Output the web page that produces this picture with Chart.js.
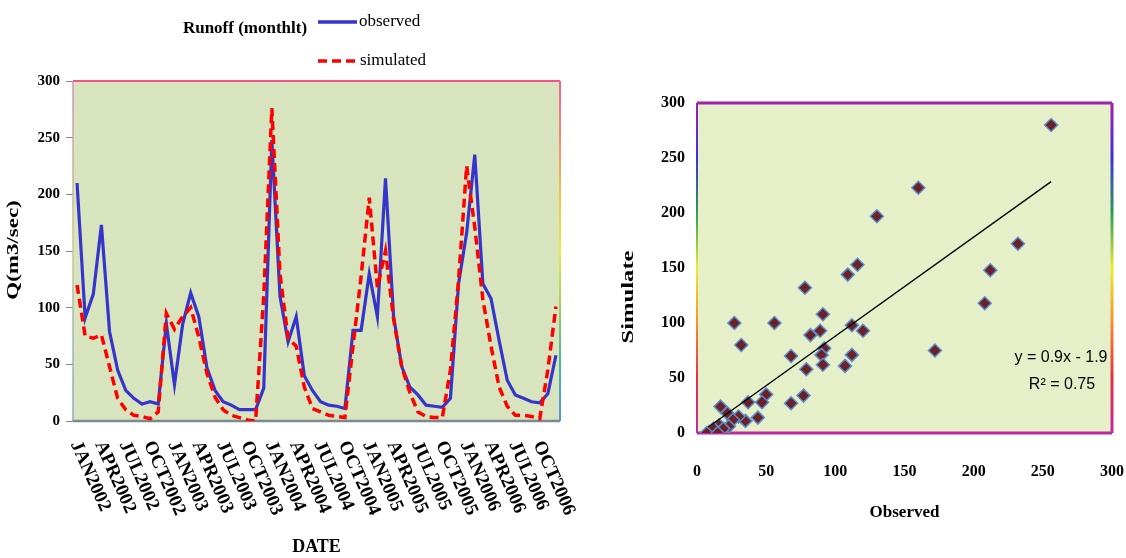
<!DOCTYPE html>
<html>
<head>
<meta charset="utf-8">
<script src="https://cdn.jsdelivr.net/npm/chart.js@4.4.0/dist/chart.umd.min.js"></script>
<style>
  html, body { margin: 0; padding: 0; background: #fff; overflow: hidden; }
  #runoff { position: absolute; left: 0; top: 0; }
  #scatter { position: absolute; left: 580px; top: 0; }
</style>
</head>
<body>
<canvas id="runoff" width="580" height="558"></canvas>
<canvas id="scatter" width="546" height="558"></canvas>
<script>
// monthly runoff 2002-2006
const years = [2002, 2003, 2004, 2005, 2006];
const monthNames = ["JAN", "FEB", "MAR", "APR", "MAY", "JUN", "JUL", "AUG", "SEP", "OCT", "NOV", "DEC"];
const observed = [210, 91, 112, 173, 79, 45, 27, 20, 15, 17, 15, 86, 32, 85, 113, 92, 47, 27, 17, 14,
  10, 10, 10, 29, 248, 110, 70, 92, 40, 27, 17, 14, 13, 11, 80, 80, 130, 92, 214, 92,
  48, 30, 23, 14, 13, 12, 20, 121, 166, 235, 121, 108, 71, 36, 23, 20, 17, 16, 24, 58];
const simulated = [120, 75, 73, 76, 48, 20, 10, 5, 4, 2, 8, 95, 81, 92, 100, 74, 42, 21, 10, 5,
  3, 1, 0, 110, 276, 130, 73, 66, 30, 11, 8, 5, 4, 3, 66, 128, 197, 118, 150, 90,
  48, 25, 8, 4, 3, 3, 45, 124, 225, 171, 107, 66, 30, 13, 5, 5, 4, 2, 45, 101];

// scatter: observed vs simulated
const obsX = [256, 160, 130, 232, 212, 208, 172, 116, 109, 78, 27, 56, 32, 91, 89, 82, 112, 120, 92, 90,
  112, 91, 107, 68, 79, 77, 68, 50, 47, 37, 44, 35, 30, 17, 22, 26, 23, 16, 13.5, 9, 12, 19, 7, 15];
const simY = [280, 223, 197, 172, 148, 118, 75, 153, 144, 132, 100, 100, 80, 108, 93, 89, 98, 93, 77, 71,
  71, 62, 61, 70, 58, 34, 27, 35, 28, 28, 14, 11, 15, 24, 18, 12, 6, 7, 1, 1, 4, 4, 0, 0];
const slope = 0.9, intercept = -1.9, r2 = 0.75;
const trendRange = [8, 256];

const months = [];
years.forEach(y => monthNames.forEach(m => months.push(m + y)));

const serif = '"Liberation Serif", "Times New Roman", serif';

function rainbow(ctx, y0, y1, stops) {
  const g = ctx.createLinearGradient(0, y0, 0, y1);
  stops.forEach((c, i) => g.addColorStop(i / (stops.length - 1), c));
  return g;
}

// vertical axis title, stretched along the text like the original picture
function sideTitle(ctx, text, cx, cy, stretch) {
  ctx.save();
  ctx.translate(cx, cy);
  ctx.rotate(-Math.PI / 2);
  ctx.scale(stretch, 1);
  ctx.font = 'bold 17px ' + serif;
  ctx.fillStyle = '#000';
  ctx.textAlign = 'center';
  ctx.textBaseline = 'middle';
  ctx.fillText(text, 0, 0);
  ctx.restore();
}

const runoffFrame = {
  id: 'runoffFrame',
  beforeDatasetsDraw(chart) {
    const { ctx, chartArea: a } = chart;
    ctx.save();
    ctx.fillStyle = '#d8e4bd';
    ctx.fillRect(a.left, a.top, a.right - a.left, a.bottom - a.top);
    ctx.lineWidth = 2;
    ctx.strokeStyle = '#f2528e';
    ctx.beginPath(); ctx.moveTo(a.left, a.top); ctx.lineTo(a.right, a.top); ctx.stroke();
    ctx.strokeStyle = rainbow(ctx, a.top, a.bottom, ['#f2609a', '#f58a70', '#f6c040', '#e8ec40', '#9ed060', '#40b8a0', '#5a90e8']);
    ctx.beginPath(); ctx.moveTo(a.right, a.top); ctx.lineTo(a.right, a.bottom); ctx.stroke();
    ctx.lineWidth = 1.5;
    ctx.strokeStyle = rainbow(ctx, a.top, a.bottom, ['#d890b0', '#c8b0a0', '#c8c890', '#a0b8b0', '#90a8c0']);
    ctx.beginPath(); ctx.moveTo(a.left, a.top); ctx.lineTo(a.left, a.bottom); ctx.stroke();
    ctx.lineWidth = 2.5;
    ctx.strokeStyle = '#7e8794';
    ctx.beginPath(); ctx.moveTo(a.left, a.bottom); ctx.lineTo(a.right, a.bottom); ctx.stroke();
    ctx.restore();
  },
  afterDraw(chart) {
    const { ctx } = chart;
    const x = chart.scales.x;
    ctx.save();
    // rotated date labels
    ctx.font = 'bold 19px ' + serif;
    ctx.fillStyle = '#000';
    ctx.textAlign = 'left';
    ctx.textBaseline = 'middle';
    months.forEach((m, i) => {
      if (i % 3) return;
      ctx.save();
      ctx.translate(x.getPixelForValue(i) - 2, 442);
      ctx.rotate(66 * Math.PI / 180);
      ctx.fillText(m, 0, 0);
      ctx.restore();
    });
    // title + legend
    ctx.font = 'bold 17px ' + serif;
    ctx.textAlign = 'center';
    ctx.fillText('Runoff (monthlt)', 245, 29);
    ctx.lineWidth = 3.5;
    ctx.strokeStyle = '#3535cc';
    ctx.beginPath(); ctx.moveTo(318, 22); ctx.lineTo(357, 22); ctx.stroke();
    ctx.strokeStyle = '#ff0000';
    ctx.setLineDash([9, 5]);
    ctx.beginPath(); ctx.moveTo(318, 61); ctx.lineTo(357, 61); ctx.stroke();
    ctx.setLineDash([]);
    ctx.font = '17px ' + serif;
    ctx.textAlign = 'left';
    ctx.fillText('observed', 359, 22);
    ctx.fillText('simulated', 360, 61);
    ctx.restore();
    sideTitle(ctx, 'Q(m3/sec)', 14, 250, 1.35);
  }
};

new Chart(document.getElementById('runoff'), {
  type: 'line',
  data: {
    labels: months,
    datasets: [
      { label: 'observed', data: observed, borderColor: '#3535cc', borderWidth: 3.2,
        pointRadius: 0, tension: 0, fill: false, order: 1 },
      { label: 'simulated', data: simulated, borderColor: '#ff0000', borderWidth: 3.5,
        borderDash: [9, 5], pointRadius: 0, tension: 0, fill: false, order: 0 }
    ]
  },
  options: {
    responsive: false,
    animation: false,
    layout: { padding: { top: 81, right: 20, left: 0, bottom: 0 } },
    plugins: { legend: { display: false }, tooltip: { enabled: false } },
    scales: {
      x: {
        offset: true,
        grid: { display: false },
        border: { display: false },
        ticks: { display: false },
        title: { display: true, text: 'DATE', color: '#000',
          font: { family: serif, size: 18, weight: 'bold' }, padding: { top: 0, bottom: 0 } },
        afterFit(s) { s.height = 137; }
      },
      y: {
        min: 0, max: 300,
        ticks: { stepSize: 50, color: '#000', padding: 6,
          font: { family: serif, size: 15, weight: 'bold' } },
        grid: { drawOnChartArea: false, tickLength: 7, color: '#8a8a8a' },
        border: { display: false },
        afterFit(s) { s.width = 73; }
      }
    }
  },
  plugins: [runoffFrame]
});

const scatterFrame = {
  id: 'scatterFrame',
  beforeDatasetsDraw(chart) {
    const { ctx, chartArea: a } = chart;
    const stops = ['#a020b0', '#4030d8', '#2f9a58', '#e8ee30', '#f39030', '#e03048', '#c02aa0'];
    ctx.save();
    ctx.fillStyle = '#e5f0c9';
    ctx.fillRect(a.left, a.top, a.right - a.left, a.bottom - a.top);
    ctx.lineWidth = 3;
    ctx.strokeStyle = rainbow(ctx, a.top, a.bottom, stops);
    ctx.beginPath(); ctx.moveTo(a.right, a.top); ctx.lineTo(a.right, a.bottom); ctx.stroke();
    ctx.lineWidth = 2;
    ctx.beginPath(); ctx.moveTo(a.left, a.top); ctx.lineTo(a.left, a.bottom); ctx.stroke();
    ctx.lineWidth = 3;
    ctx.strokeStyle = '#a020b0';
    ctx.beginPath(); ctx.moveTo(a.left, a.top); ctx.lineTo(a.right, a.top); ctx.stroke();
    ctx.strokeStyle = '#c02aa0';
    ctx.beginPath(); ctx.moveTo(a.left, a.bottom); ctx.lineTo(a.right, a.bottom); ctx.stroke();
    ctx.restore();
  },
  afterDraw(chart) {
    const { ctx, chartArea: a } = chart;
    ctx.save();
    ctx.fillStyle = '#000';
    ctx.textAlign = 'center';
    ctx.textBaseline = 'middle';
    ctx.font = '16px "Liberation Sans Narrow", "Liberation Sans", sans-serif';
    const sign = intercept < 0 ? ' - ' : ' + ';
    ctx.fillText('y = ' + slope + 'x' + sign + Math.abs(intercept), a.right - 51, 358);
    ctx.fillText('R\u00b2 = ' + r2, a.right - 50, 385);
    ctx.restore();
    sideTitle(ctx, 'Simulate', 49, 297, 1.45);
  }
};

new Chart(document.getElementById('scatter'), {
  type: 'scatter',
  data: {
    datasets: [
      { type: 'line', label: 'trend',
        data: trendRange.map(x => ({ x, y: slope * x + intercept })),
        borderColor: '#000', borderWidth: 1.3, pointRadius: 0, order: 0 },
      { type: 'scatter', label: 'points',
        data: obsX.map((x, i) => ({ x, y: simY[i] })),
        pointStyle: 'rectRot', pointRadius: 6.5,
        backgroundColor: '#6b2126', borderColor: '#5b8ccc', borderWidth: 1.5, order: 1 }
    ]
  },
  options: {
    responsive: false,
    animation: false,
    layout: { padding: { top: 103, right: 14, left: 0, bottom: 0 } },
    plugins: { legend: { display: false }, tooltip: { enabled: false } },
    scales: {
      x: {
        type: 'linear', min: 0, max: 300,
        ticks: { stepSize: 50, color: '#000', padding: 29,
          font: { family: serif, size: 16, weight: 'bold' } },
        grid: { display: false, drawTicks: false },
        border: { display: false },
        title: { display: true, text: 'Observed', color: '#000',
          font: { family: serif, size: 17, weight: 'bold' }, padding: { top: 0, bottom: 35 } },
        afterFit(s) { s.height = 125; s.paddingLeft = 12; s.paddingRight = 12; }
      },
      y: {
        min: 0, max: 300,
        ticks: { stepSize: 50, color: '#000', padding: 12,
          font: { family: serif, size: 16, weight: 'bold' } },
        grid: { display: false, drawTicks: false },
        border: { display: false },
        afterFit(s) { s.width = 117; }
      }
    }
  },
  plugins: [scatterFrame]
});
</script>
</body>
</html>
